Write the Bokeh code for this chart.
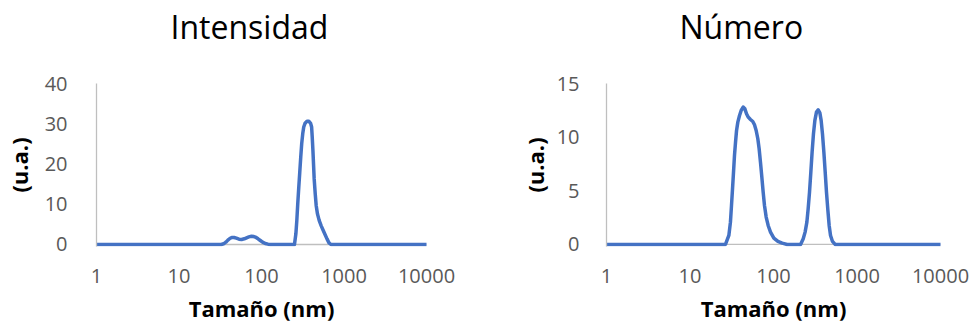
from bokeh.plotting import figure
from bokeh.layouts import row
from bokeh.models import Range1d, FixedTicker, Span, Title
from bokeh.embed import file_html
from bokeh.resources import INLINE

# Size distribution by intensity (nm, a.u.)
intensity_size = [1, 32.5, 34.7, 37.0, 39.1, 41.3, 43.6, 46.5, 49.6, 53.4, 57.4, 61.8,
                  65.9, 70.3, 75.6, 80.7, 86.0, 90.8, 96.8, 103, 111, 120, 129, 251, 261,
                  268, 275, 283, 291, 299, 307, 316, 325, 337, 356, 376, 394, 405, 412,
                  420, 428, 435, 448, 460, 477, 500, 528, 557, 589, 622, 658, 695, 10000]
intensity_value = [0, 0, 0.17, 0.58, 1.08, 1.49, 1.74, 1.74, 1.57, 1.32, 1.24, 1.41,
                   1.66, 1.90, 2.06, 1.98, 1.74, 1.41, 0.99, 0.58, 0.25, 0.08, 0, 0, 2.65,
                   5.96, 10.1, 14.2, 18.0, 21.7, 25.0, 27.5, 29.2, 30.1, 30.6, 30.6, 30.1,
                   29.2, 26.7, 23.4, 19.6, 16.3, 12.6, 9.7, 7.6, 6.0, 4.7, 3.6, 2.5, 1.4,
                   0.4, 0, 0]

# Size distribution by number (nm, a.u.)
number_size = [1, 26.6, 29.2, 30.5, 31.4, 32.3, 33.2, 34.1, 35.1, 36.1, 37.4, 39.2, 41.0,
               43.3, 45.4, 47.5, 49.7, 53.0, 56.5, 59.2, 62.0, 64.9, 67.3, 69.8, 72.5,
               75.2, 78.0, 81.7, 86.3, 92.1, 101, 113, 127, 146, 211, 227, 239, 251, 260,
               270, 280, 290, 301, 313, 327, 343, 359, 372, 386, 401, 416, 431, 448, 464,
               482, 509, 547, 10000]
number_value = [0, 0, 0.84, 2.08, 3.63, 5.19, 6.74, 8.29, 9.54, 10.62, 11.40, 12.02, 12.49,
                12.80, 12.64, 12.18, 11.87, 11.65, 11.46, 11.15, 10.62, 9.85, 8.92, 7.67,
                6.27, 4.88, 3.63, 2.55, 1.77, 1.15, 0.59, 0.28, 0.12, 0, 0, 0.53, 1.15,
                2.08, 3.32, 4.88, 6.74, 8.60, 10.31, 11.56, 12.33, 12.55, 12.27, 11.56,
                10.31, 8.60, 6.74, 4.88, 3.17, 1.77, 0.84, 0.28, 0, 0]

x_ticks = [1, 10, 100, 1000, 10000]
x_tick_labels = ["1", "10", "100", "1000", "10000"]
intensity_ticks = [0, 10, 20, 30, 40]
number_ticks = [0, 5, 10, 15]

X_TITLE = "Tamaño (nm)"
Y_TITLE = "(u.a.)"

FONT = "Open Sans"
LINE_BLUE = "#4472C4"
AXIS_GRAY = "#BFBFBF"
LABEL_GRAY = "#595959"


def panel(title, xs, ys, y_ticks, y_floor, width, border_left, border_right,
          ytick_standoff, ylabel_standoff, title_offset):
    p = figure(
        width=width, height=325,
        x_axis_type="log",
        x_range=Range1d(1, 10000),
        y_range=Range1d(y_floor, y_ticks[-1]),
        output_backend="svg", toolbar_location=None,
        min_border_left=border_left, min_border_right=border_right,
        min_border_top=83, min_border_bottom=79,
    )
    p.outline_line_color = None
    p.xgrid.visible = False
    p.ygrid.visible = False
    p.background_fill_color = "white"
    p.border_fill_color = "white"

    # a thin blank strip between the frame and the chart title
    p.add_layout(Title(text=" ", text_font_size="1px", standoff=33), "above")
    p.add_layout(Title(text=title, align="left", offset=title_offset, standoff=0,
                       vertical_align="bottom", text_font=FONT,
                       text_font_size="32px", text_font_style="normal",
                       text_color="black"), "above")

    p.xaxis.ticker = FixedTicker(ticks=x_ticks)
    p.xaxis.major_label_overrides = {float(t): s for t, s in zip(x_ticks, x_tick_labels)}
    p.yaxis.ticker = FixedTicker(ticks=y_ticks)
    p.xaxis.axis_label = X_TITLE
    p.yaxis.axis_label = Y_TITLE

    for ax in (p.xaxis, p.yaxis):
        ax.axis_line_color = AXIS_GRAY
        ax.axis_line_width = 1.3
        ax.major_tick_line_color = None
        ax.minor_tick_line_color = None
        ax.major_label_text_font = FONT
        ax.major_label_text_font_size = "20px"
        ax.major_label_text_color = LABEL_GRAY
        ax.axis_label_text_font = FONT
        ax.axis_label_text_font_size = "22px"
        ax.axis_label_text_font_style = "bold"
        ax.axis_label_text_color = "black"
    # horizontal axis line is drawn at zero, under the curve
    p.xaxis.axis_line_color = None
    p.xaxis.major_label_standoff = 16
    p.xaxis.axis_label_standoff = 7
    p.yaxis.major_label_standoff = ytick_standoff
    p.yaxis.axis_label_standoff = ylabel_standoff
    p.add_layout(Span(location=0, dimension="width", line_color=AXIS_GRAY,
                      line_width=1.3, level="underlay"))

    p.line(xs, ys, line_color=LINE_BLUE, line_width=3.5, line_join="round",
           line_cap="round")
    return p


left = panel("Intensidad", intensity_size, intensity_value, intensity_ticks, -0.5,
             490, 91, 64, 23, 8, 74)
right = panel("Número", number_size, number_value, number_ticks, -0.19,
              481, 116, 31, 21, 4, 73)

layout = row(left, right, spacing=0)
open("out.html", "w").write(file_html(layout, INLINE))
